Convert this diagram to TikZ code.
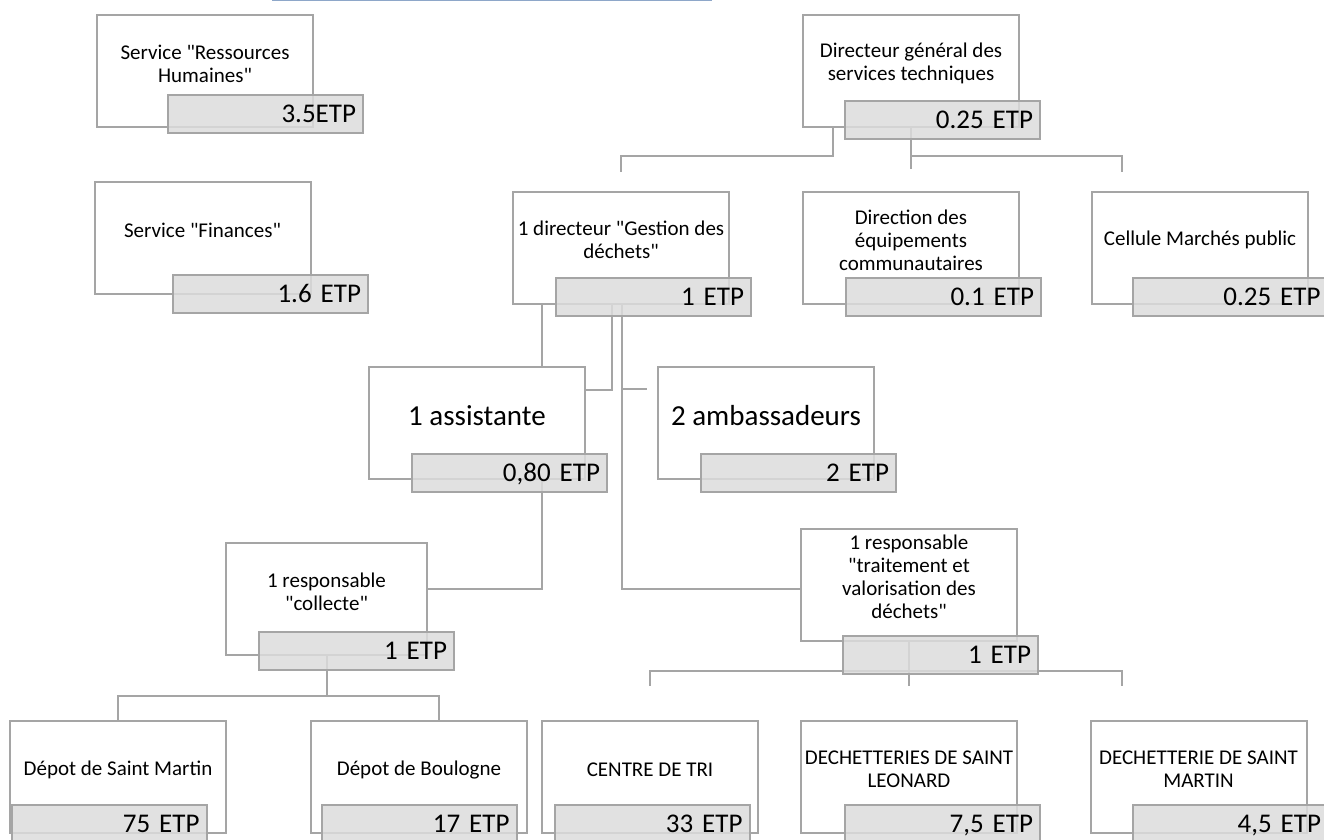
\documentclass[tikz,border=0pt]{standalone}
\usepackage{fontspec}
\setmainfont{Carlito}[Ligatures=TeXOff]
\usepackage{xcolor}
\definecolor{lineGray}{HTML}{A5A5A5}
\definecolor{etpGray}{HTML}{DCDCDC}
\definecolor{linkBlue}{HTML}{8EA7C9}
\newcommand{\smallTxt}{\fontsize{21}{23}\selectfont}
\newcommand{\bigTxt}{\fontsize{29}{34}\selectfont}
\newcommand{\etpTxt}{\fontsize{27}{30}\selectfont}
\usepackage{tikz}
\usetikzlibrary{
    positioning,
    backgrounds
}
\tikzset{
    % White box of a post, text a little above the middle
    poste/.style={
        rectangle,
        draw=lineGray,
        line width=2pt,
        fill=white,
        minimum width=216pt,
        minimum height=112pt,
        inner sep=0pt,
        label={[poste text]center:{#1}},
    },
    poste text/.style={
        font=\smallTxt,
        align=center,
        text=black,
        yshift=7.5pt,
    },
    % Grey tab with the full-time equivalents
    etp/.style={
        rectangle,
        draw=lineGray,
        line width=2pt,
        fill=etpGray,
        fill opacity=0.85,
        text opacity=1,
        minimum width=195pt,
        minimum height=38pt,
        inner sep=0pt,
        text width=181pt,
        align=right,
        text height=17.5pt,
        text depth=0pt,
        font=\etpTxt,
        text=black,
    },
    % Elbow lines of the chart
    link/.style={
        draw=lineGray,
        line width=2pt,
    },
}

\begin{document}
\begin{tikzpicture}[x=1pt, y=-1pt]
    \useasboundingbox (0,0) rectangle (1324,839);
    \draw [linkBlue, line width=1.2pt] (272,0.6) -- (712,0.6);

    \node (rh) [poste={Service "Ressources\\Humaines"}] at (205,71) {};
    \node (rh_etp) [etp] at (265.5,114) {3.5ETP};
    \node (fin) [poste={Service "Finances"}] at (202.5,238) {};
    \node (fin_etp) [etp] at (270.5,294) {1.6 ETP};

    \node (dg) [poste={Directeur général des\\services techniques}] at (911,70.5) {};
    \node (dg_etp) [etp] at (942.5,120) {0.25 ETP};
    \node (gestion) [poste={1 directeur "Gestion des\\déchets"}] at (621,247.5) {};
    \node (gestion_etp) [etp] at (653.5,296.5) {1 ETP};
    \node (equip) [poste={Direction des\\équipements\\communautaires}] at (911,247.5) {};
    \node (equip_etp) [etp] at (943.5,296.5) {0.1 ETP};
    \node (cellule) [poste={Cellule Marchés public}] at (1200,247.5) {};
    \node (cellule_etp) [etp] at (1230,296.5) {0.25 ETP};

    \node (assistante) [poste={\bigTxt 1 assistante}] at (477,423) {};
    \node (assistante_etp) [etp] at (509.5,473) {0,80 ETP};
    \node (amb) [poste={\bigTxt 2 ambassadeurs}] at (766,423) {};
    \node (amb_etp) [etp] at (798.5,473) {2 ETP};

    \node (collecte) [poste={1 responsable\\"collecte"}, minimum width=201pt] at (326.5,599) {};
    \node (collecte_etp) [etp] at (356.5,651) {1 ETP};
    \node (traitement) [poste={1 responsable\\"traitement et\\valorisation des\\déchets"}] at (909,584.5) {};
    \node (traitement_etp) [etp] at (940.5,654.5) {1 ETP};

    \node (depotsm) [poste={Dépot de Saint Martin}] at (118,777) {};
    \node (depotsm_etp) [etp] at (109,824) {75 ETP};
    \node (depotbou) [poste={Dépot de Boulogne}] at (419,777) {};
    \node (depotbou_etp) [etp] at (419,824) {17 ETP};
    \node (tri) [poste={CENTRE DE TRI}] at (650,777) {};
    \node (tri_etp) [etp] at (652,824) {33 ETP};
    \node (leonard) [poste={DECHETTERIES DE SAINT\\LEONARD}] at (909,777) {};
    \node (leonard_etp) [etp] at (942.5,824) {7,5 ETP};
    \node (dmartin) [poste={DECHETTERIE DE SAINT\\MARTIN}] at (1198.5,777) {};
    \node (dmartin_etp) [etp] at (1230.5,824) {4,5 ETP};

    \begin{scope}[on background layer]
        \draw [link] ([xshift=-78pt]dg.south) -- ++(0,28) -| ([yshift=19pt]gestion.north);
        \draw [link] (dg.south) -- ([yshift=22pt]equip.north);
        \draw [link] (dg.south) ++(0,28) -| ([xshift=-78pt, yshift=19pt]cellule.north);

        \draw [link] ([xshift=-79pt]gestion.south) -- ([xshift=65pt]assistante.north);
        \draw [link] ([xshift=-9pt]gestion.south) |- ([yshift=-24pt]assistante.north east);
        \draw [link] ([xshift=1pt]gestion.south) |- ([xshift=-10pt, yshift=-23pt]amb.north west);
        \draw [link] ([xshift=1pt]gestion.south) |- ([yshift=-4.5pt]traitement.west);

        \draw [link] ([xshift=65pt]assistante.south) |- ([yshift=10pt]collecte.east);
        \draw [link] (collecte.south) -- ++(0,40) -| (depotsm.north);
        \draw [link] (collecte.south) ++(0,40) -| ([xshift=20pt]depotbou.north);

        \draw [link] (traitement.south) -- ++(0,29) -| ([yshift=34pt]tri.north);
        \draw [link] (traitement.south) -- ([yshift=34pt]leonard.north);
        \draw [link] (traitement.south) ++(0,29) -| ([xshift=-77pt, yshift=34pt]dmartin.north);
    \end{scope}
\end{tikzpicture}
\end{document}
